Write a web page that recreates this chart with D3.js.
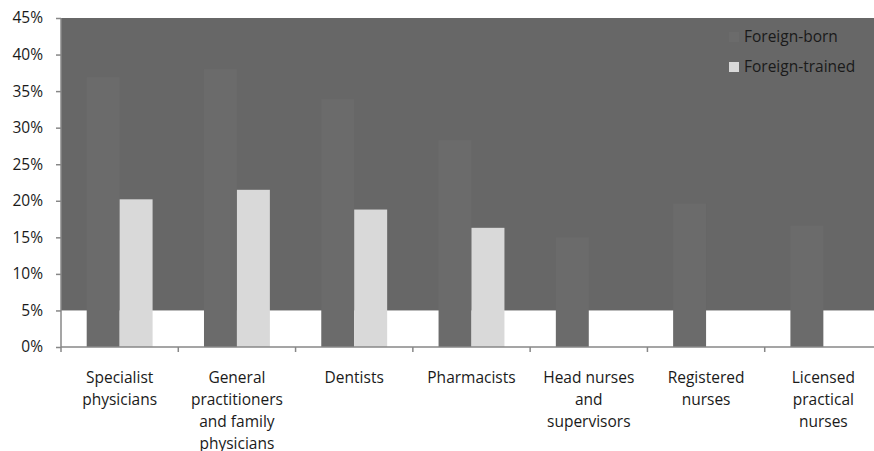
<!DOCTYPE html>
<html lang="en">
	<head>
		<meta charset="utf-8">
		<title>Foreign-born and foreign-trained health workers</title>
		<script src="https://d3js.org/d3.v7.min.js"></script>
		<style>
			body { margin: 0; background: #fff; }
			text { font-family: "Open Sans", "Noto Sans", sans-serif; fill: #1a1a1a; }
		</style>
	</head>
	<body>
		<script type="text/javascript">

			// data
			var categories = ["Specialist physicians", "General practitioners and family physicians", "Dentists",
				"Pharmacists", "Head nurses and supervisors", "Registered nurses", "Licensed practical nurses"];
			var labelLines = [["Specialist", "physicians"], ["General", "practitioners", "and family", "physicians"],
				["Dentists"], ["Pharmacists"], ["Head nurses", "and", "supervisors"], ["Registered", "nurses"],
				["Licensed", "practical", "nurses"]];
			var series = ["Foreign-born", "Foreign-trained"];
			var foreignBorn = [36.9, 38.0, 33.9, 28.3, 15.0, 19.6, 16.6];
			var foreignTrained = [20.2, 21.5, 18.8, 16.3, null, null, null];
			var yTicks = [0, 5, 10, 15, 20, 25, 30, 35, 40, 45];

			var w = 874;
			var h = 451;
			var mLeft = 61, mTop = 18, mBottom = 347, mRight = 882;
			var fs = "15.5px";

			var colors = { "Foreign-born": "#6b6b6b", "Foreign-trained": "#d9d9d9" };

			var svg = d3.select("body").append("svg").attr("width", w).attr("height", h);

			// scales
			var x0 = d3.scaleBand().domain(categories).range([mLeft, mRight]);
			var x1 = d3.scaleBand().domain(series).range([0, x0.bandwidth()]).paddingInner(0).paddingOuter(0.78);
			var y = d3.scaleLinear().domain([0, 45]).range([mBottom, mTop]);

			// plot area fill (above 5%)
			svg.append("rect")
				.attr("x", mLeft).attr("y", y(45))
				.attr("width", mRight - mLeft).attr("height", y(5) - y(45))
				.attr("fill", "#676767");

			// bars
			var rows = categories.map(function(c, i) {
				return { cat: c, values: [
					{ s: "Foreign-born", v: foreignBorn[i] },
					{ s: "Foreign-trained", v: foreignTrained[i] } ] };
			});

			var groups = svg.append("g").selectAll("g").data(rows).enter().append("g")
				.attr("transform", function(d) { return "translate(" + x0(d.cat) + ",0)"; });

			groups.selectAll("rect").data(function(d) { return d.values.filter(function(e) { return e.v != null; }); })
				.enter().append("rect")
				.attr("x", function(d) { return x1(d.s); })
				.attr("y", function(d) { return y(d.v); })
				.attr("width", x1.bandwidth())
				.attr("height", function(d) { return y(0) - y(d.v); })
				.attr("fill", function(d) { return colors[d.s]; });

			// y axis
			var yAxis = d3.axisLeft(y).tickValues(yTicks).tickSize(5).tickPadding(13)
				.tickFormat(function(d) { return d + "%"; });
			var gy = svg.append("g").attr("transform", "translate(" + mLeft + ",0)").call(yAxis);
			gy.select(".domain").attr("stroke", "#878787").attr("stroke-width", 1.5).attr("d", "M0," + y(45) + "V" + y(0));
			gy.selectAll(".tick line").attr("stroke", "#878787").attr("stroke-width", 1.5);
			gy.selectAll(".tick text").style("font-size", fs).style("font-family", "'Open Sans', sans-serif").attr("fill", "#1a1a1a");

			// x axis
			var boundaries = categories.map(function(c) { return x0(c); });
			svg.append("line").attr("x1", mLeft).attr("x2", mRight).attr("y1", y(0)).attr("y2", y(0))
				.attr("stroke", "#878787").attr("stroke-width", 1.5);
			svg.append("g").selectAll("line").data(boundaries).enter().append("line")
				.attr("x1", function(d) { return d; }).attr("x2", function(d) { return d; })
				.attr("y1", y(0)).attr("y2", y(0) + 5)
				.attr("stroke", "#878787").attr("stroke-width", 1.5);

			var xl = svg.append("g").selectAll("text").data(categories).enter().append("text")
				.attr("text-anchor", "middle")
				.style("font-size", fs)
				.attr("x", function(d) { return x0(d) + x0.bandwidth() / 2; })
				.attr("y", 383);
			xl.each(function(d, i) {
				var t = d3.select(this);
				labelLines[i].forEach(function(line, j) {
					t.append("tspan").attr("x", x0(d) + x0.bandwidth() / 2).attr("y", 383 + j * 22).text(line);
				});
			});

			// legend
			var legend = svg.append("g").selectAll("g").data(series).enter().append("g")
				.attr("transform", function(d, i) { return "translate(729," + (32 + i * 30) + ")"; });
			legend.append("rect").attr("width", 10).attr("height", 10)
				.attr("fill", function(d) { return colors[d]; });
			legend.append("text").attr("x", 15).attr("y", 10).style("font-size", fs).text(function(d) { return d; });

		</script>
	</body>
</html>
